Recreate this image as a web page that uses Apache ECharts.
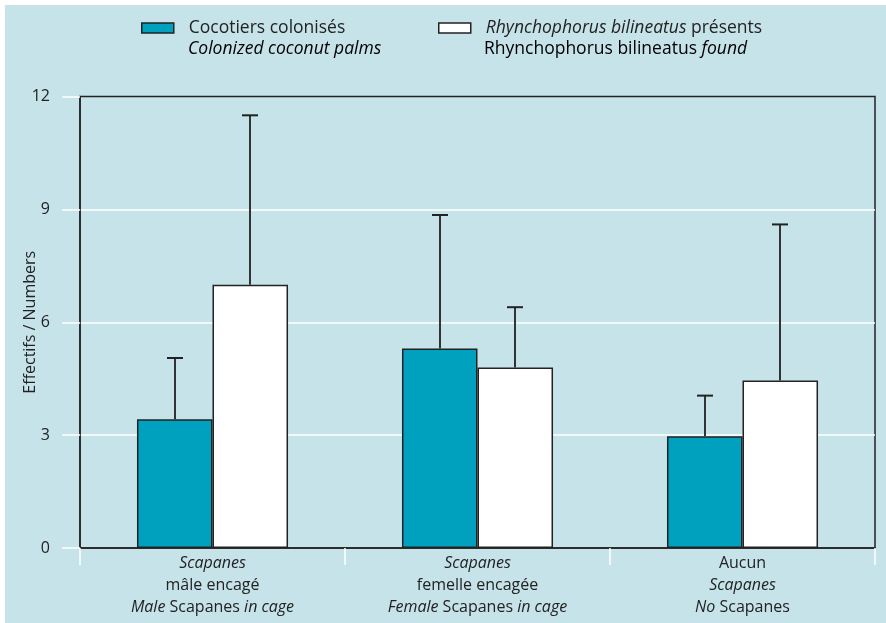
<!DOCTYPE html>
<html><head><meta charset="utf-8">
<script src="https://cdn.jsdelivr.net/npm/echarts@6/dist/echarts.min.js"></script>
<style>html,body{margin:0;padding:0;background:#fff;}#c{position:absolute;left:5px;top:5px;width:881px;height:618px;}</style>
</head><body><div id="c"></div>
<script>
// ---- data ----
const categories = [
  '{i|Scapanes}\n{n|mâle encagé}\n{i|Male}{n| Scapanes }{i|in cage}',
  '{i|Scapanes}\n{n|femelle encagée}\n{i|Female}{n| Scapanes }{i|in cage}',
  '{n|Aucun}\n{i|Scapanes}\n{i|No}{n| Scapanes}'
];
const seriesNames = ['Cocotiers colonisés', 'Rhynchophorus bilineatus présents'];
const colonized = [3.42, 5.3, 2.97];
const colonizedErrTop = [5.05, 8.85, 4.05];
const found = [7.0, 4.8, 4.45];
const foundErrTop = [11.5, 6.4, 8.6];
const yTicks = [0, 3, 6, 9, 12];
const yAxisName = 'Effectifs / Numbers';

const FONT = 'Open Sans';
const BG = '#c6e3e9';
const TEAL = '#00a1bf';
const DARK = '#222';
const GAP = 0.43;

function errRender(side) {
  return function (params, api) {
    const cat = api.value(0);
    const base = api.coord([cat, api.value(1)]);
    const top = api.coord([cat, api.value(2)]);
    const band = api.size([1, 0])[0];
    const w = band * (1 - GAP) / 2;
    const x = Math.round(base[0] + side * w / 2);
    return {
      type: 'group', children: [
        { type: 'line', shape: { x1: x, y1: base[1], x2: x, y2: top[1] }, style: { stroke: '#333', lineWidth: 2 } },
        { type: 'line', shape: { x1: x - 8, y1: top[1], x2: x + 8, y2: top[1] }, style: { stroke: DARK, lineWidth: 2 } }
      ]
    };
  };
}

const chart = echarts.init(document.getElementById('c'));
const rich = {
  n: { fontFamily: FONT, fontSize: 16, color: DARK, lineHeight: 22 },
  i: { fontFamily: FONT, fontSize: 16, fontStyle: 'italic', color: DARK, lineHeight: 22 }
};
const lrich = {
  n: { fontFamily: FONT, fontSize: 17.5, color: DARK, lineHeight: 22 },
  i: { fontFamily: FONT, fontSize: 17.5, fontStyle: 'italic', color: DARK, lineHeight: 22 }
};
chart.setOption({
  backgroundColor: BG,
  animation: false,
  textStyle: { fontFamily: FONT },
  legend: [
    {
      data: [seriesNames[0]], left: 136, top: 14, padding: 0, itemWidth: 32, itemHeight: 10, icon: 'rect',
      itemStyle: { borderColor: DARK, borderWidth: 1.5 },
      formatter: () => '{n|Cocotiers colonisés}',
      textStyle: { padding: [0, 0, 0, 10], rich: lrich }
    },
    {
      data: [seriesNames[1]], left: 433, top: 14, padding: 0, itemWidth: 32, itemHeight: 10, icon: 'rect',
      itemStyle: { borderColor: DARK, borderWidth: 1.5 },
      formatter: () => '{i|Rhynchophorus bilineatus}{n| présents}',
      textStyle: { padding: [0, 0, 0, 10], rich: lrich }
    }
  ],
  graphic: [
    { type: 'text', left: 183, top: 35, style: { text: '{i|Colonized coconut palms}', rich: lrich } },
    { type: 'text', left: 479, top: 35, style: { text: '{n|Rhynchophorus bilineatus }{i|found}', rich: lrich } }
  ],
  grid: { left: 75, top: 91.5, right: 11, bottom: 75, outerBoundsMode: 'none', containLabel: false, show: true, borderColor: DARK, borderWidth: 1.5, backgroundColor: 'transparent' },
  xAxis: {
    type: 'category', data: categories, boundaryGap: true,
    axisLine: { show: true, lineStyle: { color: DARK, width: 1.5 } },
    axisTick: { show: true, interval: 0, length: 17, lineStyle: { color: '#fff', width: 1.5 } },
    axisLabel: { interval: 0, margin: 4, formatter: v => v, rich: rich, lineHeight: 22 },
    splitLine: { show: false }
  },
  yAxis: {
    type: 'value', min: yTicks[0], max: yTicks[yTicks.length - 1], interval: yTicks[1] - yTicks[0],
    name: yAxisName, nameLocation: 'middle', nameGap: 42, nameMoveOverlap: false,
    nameTextStyle: { fontFamily: FONT, fontSize: 16, color: DARK },
    axisLine: { show: true, lineStyle: { color: DARK, width: 1.5 } },
    axisTick: { show: true, length: 18, lineStyle: { color: '#fff', width: 1.5 } },
    axisLabel: { margin: 30, fontFamily: FONT, fontSize: 16, color: DARK },
    splitLine: { show: true, showMinLine: false, showMaxLine: false, lineStyle: { color: '#fff', width: 1.5 } }
  },
  series: [
    {
      name: seriesNames[0], type: 'bar', data: colonized, barGap: '0%', barCategoryGap: (GAP * 100) + '%',
      itemStyle: { color: TEAL, borderColor: DARK, borderWidth: 1.5 }
    },
    {
      name: seriesNames[1], type: 'bar', data: found, barGap: '0%', barCategoryGap: (GAP * 100) + '%',
      itemStyle: { color: '#fff', borderColor: DARK, borderWidth: 1.5 }
    },
    {
      type: 'custom', renderItem: errRender(-1), z: 5, silent: true,
      encode: { x: 0, y: 2 },
      data: colonized.map((v, i) => [i, v, colonizedErrTop[i]])
    },
    {
      type: 'custom', renderItem: errRender(1), z: 5, silent: true,
      encode: { x: 0, y: 2 },
      data: found.map((v, i) => [i, v, foundErrTop[i]])
    }
  ]
});
</script></body></html>
